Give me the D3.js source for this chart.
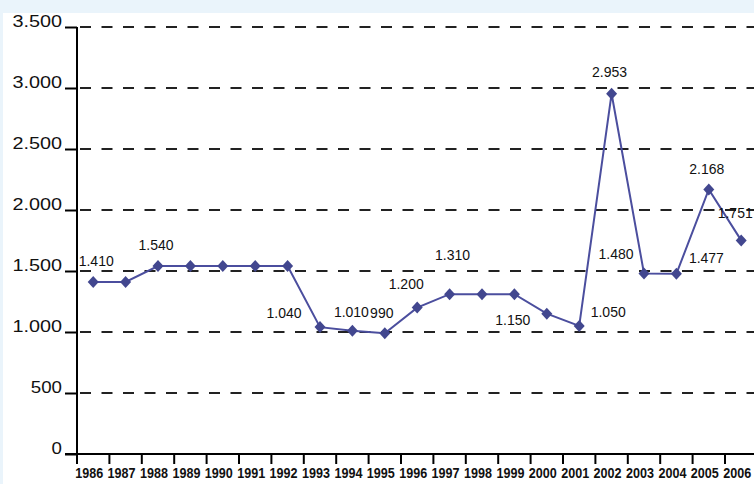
<!DOCTYPE html>
<html>
<head>
<meta charset="utf-8">
<script src="https://cdn.jsdelivr.net/npm/d3@7"></script>
<style>
  html, body { margin: 0; padding: 0; background: #EAF4FB; }
  svg { display: block; }
  text { font-family: "Liberation Sans", Arial, sans-serif; fill: #111; }
</style>
</head>
<body>
<svg id="chart" width="754" height="484"></svg>
<script>
// ---- data ----
const years = ["1986","1987","1988","1989","1990","1991","1992","1993","1994","1995","1996",
               "1997","1998","1999","2000","2001","2002","2003","2004","2005","2006"];
const values = [1410,1410,1540,1540,1540,1540,1540,1040,1010,990,1200,
                1310,1310,1310,1150,1050,2953,1480,1477,2168,1751];
const yTicks = [0,500,1000,1500,2000,2500,3000,3500];
const labelledYears = ["1986","1988","1993","1994","1995","1996","1997","2000","2001","2002","2003","2004","2005","2006"];

// ---- layout (not data) ----
const labelOffset = {
  "1986":[3,-21], "1988":[-2,-21], "1993":[-36,-14], "1994":[-1,-19], "1995":[-3,-20],
  "1996":[-11,-24], "1997":[3,-39], "2000":[-34,6], "2001":[29,-14], "2002":[-2,-22],
  "2003":[-28,-19], "2004":[30,-16], "2005":[-2,-21], "2006":[-6,-27]
};
const W = 754, H = 484;
const x0 = 77, step = 32.4;
const fmt = v => d3.format(",")(v).replace(/,/g, ".");

const svg = d3.select("#chart");
svg.append("rect").attr("x",3).attr("y",13).attr("width",W-3).attr("height",H-13).attr("fill","#fff");

const x = d3.scaleBand().domain(years).range([x0, x0 + step*years.length]).padding(0);
const y = d3.scaleLinear().domain([0,3500]).range([454,27]);

const g = svg.append("g");

// gridlines
g.selectAll("line.grid").data(yTicks.filter(t => t>0)).join("line")
  .attr("class","grid")
  .attr("x1",80).attr("x2",W)
  .attr("y1",d=>y(d)).attr("y2",d=>y(d))
  .attr("stroke","#222").attr("stroke-width",2).attr("stroke-dasharray","11 10.5");

// y axis
const yAxis = d3.axisLeft(y).tickValues(yTicks).tickSize(12).tickFormat(fmt);
const ya = g.append("g").attr("transform",`translate(${x0},0)`).call(yAxis);
ya.select(".domain").attr("stroke","#000").attr("stroke-width",2).attr("d",`M0,${y(3500)}V${y(0)+10}`);
ya.selectAll(".tick line").attr("stroke","#000").attr("stroke-width",2);
ya.selectAll(".tick text")
  .attr("x",-15).attr("dy",null).attr("y",-1)
  .style("font-size","16px").style("font-family","'Liberation Sans', Arial, sans-serif")
  .attr("fill","#111")
  .each(function(d){
    const s = fmt(d);
    const digits = s.replace(/\./g,"").length;
    const dots = s.length - digits;
    d3.select(this).attr("textLength", digits*10.4 + dots*8).attr("lengthAdjust","spacingAndGlyphs");
  });

// x axis
g.append("line").attr("x1",65).attr("x2",W).attr("y1",y(0)).attr("y2",y(0))
  .attr("stroke","#000").attr("stroke-width",2);
const bounds = d3.range(years.length+1).map(i => x0 + i*step);
g.selectAll("line.xtick").data(bounds.filter(b => b <= W)).join("line")
  .attr("class","xtick")
  .attr("x1",d=>d).attr("x2",d=>d).attr("y1",y(0)).attr("y2",y(0)+10)
  .attr("stroke","#000").attr("stroke-width",2);
g.selectAll("text.xlab").data(years).join("text")
  .attr("class","xlab")
  .attr("x",d=>x(d)+x.bandwidth()/2-4).attr("y",478)
  .attr("text-anchor","middle")
  .style("font-size","14px").style("font-weight","bold")
  .attr("textLength",28).attr("lengthAdjust","spacingAndGlyphs")
  .text(d=>d);

// line
const pts = years.map((yr,i)=>({yr, v: values[i], px: x(yr)+x.bandwidth()/2, py: y(values[i])}));
g.append("path").datum(pts)
  .attr("d", d3.line().x(d=>d.px).y(d=>d.py))
  .attr("fill","none").attr("stroke","#4B4E9E").attr("stroke-width",2);

// diamond markers
g.selectAll("path.mk").data(pts).join("path")
  .attr("class","mk")
  .attr("d", d => `M${d.px},${d.py-6}L${d.px+5.5},${d.py}L${d.px},${d.py+6}L${d.px-5.5},${d.py}Z`)
  .attr("fill","#42478F");

// data labels
g.selectAll("text.dl").data(pts.filter(p => labelledYears.includes(p.yr))).join("text")
  .attr("class","dl")
  .attr("x", d => d.px + labelOffset[d.yr][0])
  .attr("y", d => d.py + labelOffset[d.yr][1])
  .attr("dy","0.36em")
  .attr("text-anchor","middle")
  .style("font-size","14px")
  .text(d => fmt(d.v));
</script>
</body>
</html>
